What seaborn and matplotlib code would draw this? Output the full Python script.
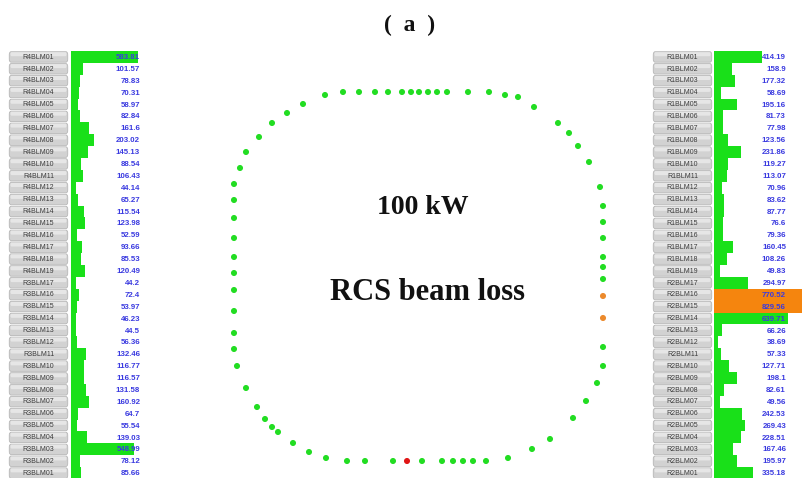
import matplotlib
matplotlib.use("Agg")
import matplotlib.pyplot as plt
import matplotlib.transforms as mtransforms
from matplotlib.patches import FancyBboxPatch
import seaborn as sns
import pandas as pd

# ---------------- data ----------------
left_labels = [f"R4BLM{i:02d}" for i in range(1, 20)] + [f"R3BLM{i:02d}" for i in range(17, 0, -1)]
left_values = [583.81, 101.57, 78.83, 70.31, 58.97, 82.84, 161.6, 203.02, 145.13, 88.54,
               106.43, 44.14, 65.27, 115.54, 123.98, 52.59, 93.66, 85.53, 120.49,
               44.2, 72.4, 53.97, 46.23, 44.5, 56.36, 132.46, 116.77, 116.57, 131.58,
               160.92, 64.7, 55.54, 139.03, 548.99, 78.12, 85.66]

right_labels = [f"R1BLM{i:02d}" for i in range(1, 20)] + [f"R2BLM{i:02d}" for i in range(17, 0, -1)]
right_values = [414.19, 158.9, 177.32, 58.69, 195.16, 81.73, 77.98, 123.56, 231.86, 119.27,
                113.07, 70.96, 83.62, 87.77, 76.6, 79.36, 160.45, 108.26, 49.83,
                294.97, 770.52, 829.56, 639.71, 66.26, 38.69, 57.33, 127.71, 198.1, 82.61,
                49.56, 242.53, 269.43, 228.51, 167.46, 195.97, 335.18]
right_alarm = ["R2BLM16", "R2BLM15"]

# ring of loss monitors (positions in ring layout units, y downward)
ring_x = [105, 123, 139, 155, 168, 182, 191, 199, 208, 217, 227, 248, 269, 285, 298,
          314, 338, 349, 358, 369,
          380, 383, 383, 383, 383, 383, 383, 383, 383, 383, 383, 377, 366, 353, 330, 312, 288,
          266, 253, 243, 233, 222, 202, 187, 173, 145, 127, 106, 89, 73, 58, 52, 45, 37, 26,
          17, 14, 14, 14, 14, 14, 14, 14, 14, 14, 14,
          20, 26, 39, 52, 67, 83]
ring_y = [15, 12, 12, 12, 12, 12, 12, 12, 12, 12, 12, 12, 12, 15, 17,
          27, 43, 53, 66, 82,
          107, 126, 142, 158, 177, 187, 199, 216, 238, 267, 286, 303, 321, 338, 359, 369, 378,
          381, 381, 381, 381, 381, 381, 381, 381, 381, 381, 378, 372, 363, 352, 347, 339, 327, 308,
          286, 269, 253, 231, 210, 193, 177, 158, 138, 120, 104,
          88, 72, 57, 43, 33, 24]
ring_status = ["ok"] * 27 + ["warn", "warn"] + ["ok"] * 14 + ["alarm"] + ["ok"] * 28

# ---------------- style ----------------
GREEN = "#19e019"
ORANGE = "#f5850e"
VALUE_BLUE = "#3a3ae0"

W, H = 802, 478
fig = plt.figure(figsize=(W / 100, H / 100), dpi=100)
fig.patch.set_facecolor("white")


def px_axes(x0, y0, w, h):
    return fig.add_axes([x0 / W, 1 - (y0 + h) / H, w / W, h / H])


ROW_TOP = 51
ROW_H = 11.89
N = 36
PANEL_H = ROW_H * N


def label_column(x0, labels):
    ax = px_axes(x0, ROW_TOP, 61, PANEL_H)
    ax.set_xlim(0, 1)
    ax.set_ylim(N - 0.5, -0.5)
    ax.axis("off")
    for i, lab in enumerate(labels):
        box = FancyBboxPatch((0.02, i - 0.44), 0.96, 0.88,
                             boxstyle="round,pad=0,rounding_size=0.03",
                             facecolor="#d2d2d2", edgecolor="#b0b0b0", linewidth=0.5,
                             mutation_aspect=8)
        ax.add_patch(box)
        ax.add_patch(FancyBboxPatch((0.04, i - 0.40), 0.92, 0.34,
                                    boxstyle="round,pad=0,rounding_size=0.02",
                                    facecolor="#e6e6e6", edgecolor="none", mutation_aspect=8))
        ax.text(0.5, i + 0.02, lab, ha="center", va="center", fontsize=5.0,
                color="#3c3c3c", family="Liberation Sans")
    return ax


def bar_column(x0, width, labels, values, xmax, text_frac, alarm):
    ax = px_axes(x0, ROW_TOP, width, PANEL_H)
    df = pd.DataFrame({"label": labels, "value": values})
    pal = {lab: (ORANGE if lab in alarm else GREEN) for lab in labels}
    sns.barplot(data=df, x="value", y="label", hue="label", palette=pal, order=labels,
                hue_order=labels, width=1.0, linewidth=0, saturation=1, legend=False,
                orient="h", ax=ax)
    ax.set_xlim(0, xmax)
    ax.set_ylim(N - 0.5, -0.5)
    ax.axis("off")
    trans = mtransforms.blended_transform_factory(ax.transAxes, ax.transData)
    for i, v in enumerate(values):
        ax.text(text_frac, i + 0.05, f"{v}", transform=trans, ha="right", va="center",
                fontsize=5.7, fontweight="bold", color=VALUE_BLUE, family="Liberation Sans",
                clip_on=False)
    return ax


label_column(8, left_labels)
bar_column(71, 80, left_labels, left_values, 700, (140 - 71) / 80, [])

label_column(652, right_labels)
bar_column(714, 88, right_labels, right_values, 758, (786 - 714) / 88, right_alarm)

# ---------------- ring ----------------
axr = px_axes(220, 80, 400, 390)
ring_df = pd.DataFrame({"x": ring_x, "y": ring_y, "status": ring_status})
sns.scatterplot(data=ring_df, x="x", y="y", hue="status",
                palette={"ok": "#22dd22", "warn": "#ec8a2c", "alarm": "#e01515"},
                s=19, linewidth=0, legend=False, ax=axr)
axr.set_xlim(0, 400)
axr.set_ylim(390, 0)
axr.axis("off")

fig.text(423 / W, 1 - 207 / H, "100 kW", ha="center", va="center", fontsize=20,
         fontweight="bold", family="Liberation Serif", color="#111111")
fig.text(427 / W, 1 - 293 / H, "RCS beam loss", ha="center", va="center", fontsize=22,
         fontweight="bold", family="Liberation Serif", color="#111111")
fig.text(410 / W, 1 - 25 / H, "(  a  )", ha="center", va="center", fontsize=17,
         fontweight="bold", family="Liberation Serif", color="#111111")

fig.savefig("out.png", dpi=100, facecolor="white")
